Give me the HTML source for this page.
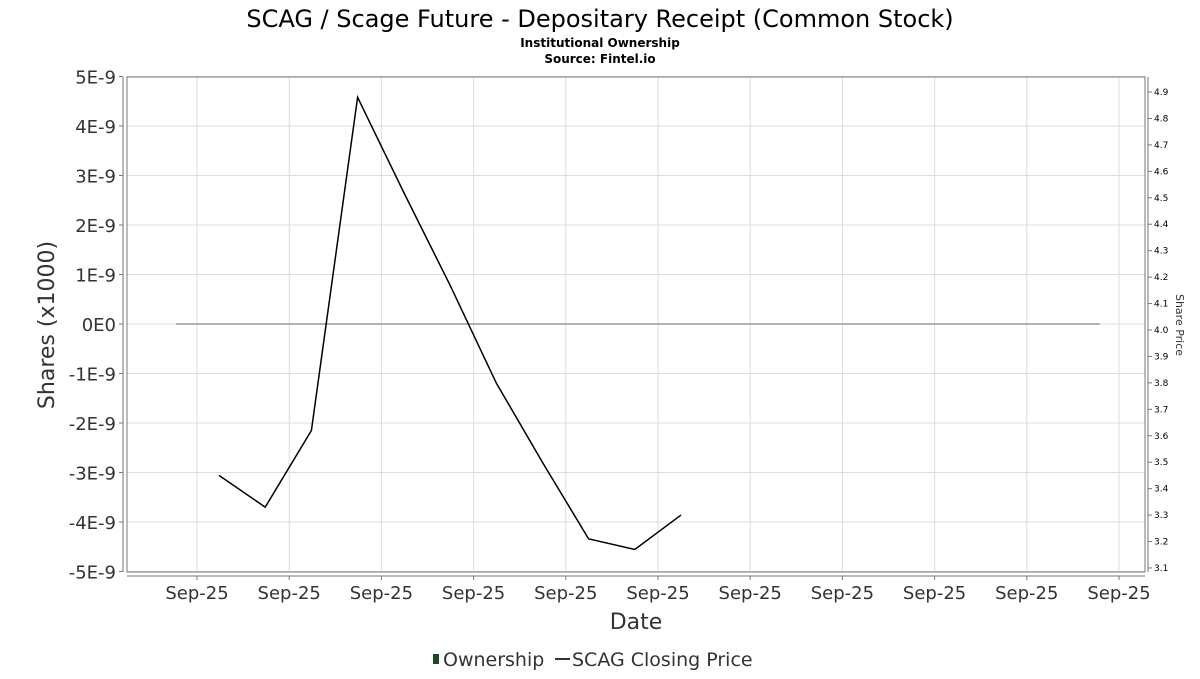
<!DOCTYPE html>
<html><head><meta charset="utf-8"><style>
body{margin:0;background:#fff;width:1200px;height:675px;overflow:hidden;font-family:"DejaVu Sans","Liberation Sans",sans-serif}
</style></head><body>
<svg width="1200" height="675" xmlns="http://www.w3.org/2000/svg" font-family="DejaVu Sans, Liberation Sans, sans-serif">
<text x="600" y="27" text-anchor="middle" font-size="24" fill="#000">SCAG / Scage Future - Depositary Receipt (Common Stock)</text>
<text x="600" y="47" text-anchor="middle" font-size="12" font-weight="bold">Institutional Ownership</text>
<text x="600" y="63" text-anchor="middle" font-size="12" font-weight="bold">Source: Fintel.io</text>
<g id="grid"></g>
<rect x="127" y="77" width="1018" height="495" fill="none" stroke="#777" stroke-width="1"/>
<line x1="123" y1="77" x2="123" y2="572" stroke="#777"/>
<line x1="1148" y1="77" x2="1148" y2="572" stroke="#777"/>
<line x1="127" y1="576" x2="1145" y2="576" stroke="#777"/>
<g id="leftTicks"></g>
<g id="rightTicks"></g>
<g id="xTicks"></g>
<line x1="176" y1="324" x2="1100" y2="324" stroke="#999" stroke-width="1.5"/>
<polyline id="price" fill="none" stroke="#000" stroke-width="1.5"/>
<text transform="translate(54,325) rotate(-90)" text-anchor="middle" font-size="22" fill="#333">Shares (x1000)</text>
<text transform="translate(1176,325) rotate(90)" text-anchor="middle" font-size="11" fill="#333">Share Price</text>
<text x="636" y="629" text-anchor="middle" font-size="22" fill="#333">Date</text>
<g>
<rect x="433" y="654" width="6" height="10" fill="#1a4a1f"/>
<text x="443" y="666" font-size="19" fill="#333">Ownership</text>
<line x1="555" y1="659" x2="570" y2="659" stroke="#333" stroke-width="2"/>
<text x="572" y="666" font-size="19" fill="#333">SCAG Closing Price</text>
</g>
</svg>
<script>
const leftTickLabels=["5E-9","4E-9","3E-9","2E-9","1E-9","0E0","-1E-9","-2E-9","-3E-9","-4E-9","-5E-9"];
const leftTickValues=[5,4,3,2,1,0,-1,-2,-3,-4,-5];
const rightTickValues=[4.9,4.8,4.7,4.6,4.5,4.4,4.3,4.2,4.1,4.0,3.9,3.8,3.7,3.6,3.5,3.4,3.3,3.2,3.1];
const xTickLabels=["Sep-25","Sep-25","Sep-25","Sep-25","Sep-25","Sep-25","Sep-25","Sep-25","Sep-25","Sep-25","Sep-25"];
const priceIndex=[0,1,2,3,4,5,6,7,8,9,10];
const priceValues=[3.45,3.33,3.62,4.88,4.52,4.17,3.80,3.50,3.21,3.17,3.30];
const NS="http://www.w3.org/2000/svg";
const yL=v=>324-v*49.5;
const yR=v=>330+(4.0-v)*264.4;
const xT=i=>197+i*92.2;
const xP=i=>219+i*46.2;
function mk(t,a,p){const e=document.createElementNS(NS,t);for(const k in a)e.setAttribute(k,a[k]);p.appendChild(e);return e;}
const grid=document.getElementById('grid'),lt=document.getElementById('leftTicks'),rt=document.getElementById('rightTicks'),xt=document.getElementById('xTicks');
leftTickValues.forEach((v,i)=>{const y=yL(v);
const g=mk('line',{x1:127,x2:1145,y1:y,y2:y,stroke:'#ddd'},grid);


const t=mk('text',{x:116,y:y+7,'text-anchor':'end','font-size':18,fill:'#333'},lt);t.textContent=leftTickLabels[i];


mk('line',{x1:119,x2:123,y1:y,y2:y,stroke:'#777'},lt);});
rightTickValues.forEach(v=>{const y=yR(v);
mk('line',{x1:1148,x2:1152,y1:y,y2:y,stroke:'#777'},rt);
const t=mk('text',{x:1154,y:y+3,'font-size':9,fill:'#000'},rt);t.textContent=v.toFixed(1);

});
xTickLabels.forEach((l,i)=>{const x=xT(i);
const g=mk('line',{x1:x,x2:x,y1:77,y2:572,stroke:'#ddd'},grid);


mk('line',{x1:x,x2:x,y1:576,y2:580,stroke:'#777'},xt);
const t=mk('text',{x:x,y:599,'text-anchor':'middle','font-size':18,fill:'#333'},xt);t.textContent=l;

});
document.getElementById('price').setAttribute('points',priceValues.map((v,i)=>xP(priceIndex[i])+','+yR(v)).join(' '));
</script>
</body></html>
